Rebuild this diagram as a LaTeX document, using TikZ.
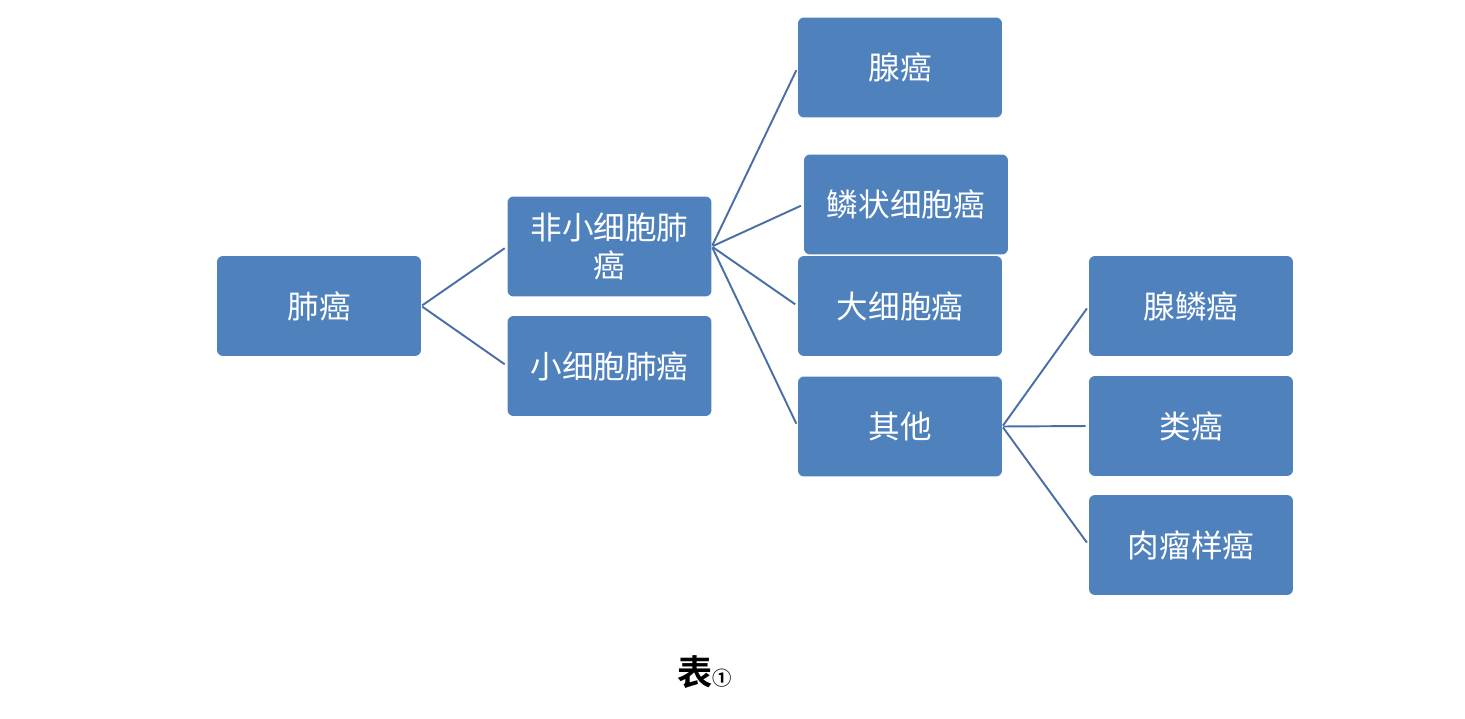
\documentclass[tikz,border=0pt]{standalone}
\usepackage{fontspec}
\newfontfamily\cjk{Noto Sans CJK SC}
\newfontfamily\cjkb{Noto Sans CJK SC Bold}
\definecolor{boxblue}{HTML}{4F81BD}
\definecolor{linkblue}{HTML}{4A6FA5}
\tikzset{
  box/.style={fill=boxblue, rounded corners=0.12cm, minimum width=4.08cm, minimum height=2cm, text=white, font=\cjk\fontsize{18}{22}\selectfont, align=center, inner sep=1pt, text width=3.98cm},
  link/.style={draw=linkblue, line width=1.1pt, shorten >=0.06cm, shorten <=0.02cm}
}
\begin{document}
\begin{tikzpicture}[x=0.02cm,y=-0.02cm]
\useasboundingbox (0,0) rectangle (1465,719);
\node[box] (fa) at (319,306) {肺癌};
\node[box] (nsc) at (609.5,246.5) {非小细胞肺\\癌};
\node[box] (sc) at (609.5,366) {小细胞肺癌};
\node[box] (xa) at (900,67.5) {腺癌};
\node[box] (ln) at (906,204.5) {鳞状细胞癌};
\node[box] (dx) at (900,306) {大细胞癌};
\node[box] (qt) at (900,426.5) {其他};
\node[box] (xl) at (1191,306) {腺鳞癌};
\node[box] (la) at (1191,426) {类癌};
\node[box] (rl) at (1191,545) {肉瘤样癌};
\draw[link] (fa.east) -- (nsc.west);
\draw[link] (fa.east) -- (sc.west);
\draw[link] (nsc.east) -- (xa.west);
\draw[link] (nsc.east) -- (ln.west);
\draw[link] (nsc.east) -- (dx.west);
\draw[link] (nsc.east) -- (qt.west);
\draw[link] (qt.east) -- (xl.west);
\draw[link] (qt.east) -- (la.west);
\draw[link] (qt.east) -- (rl.west);
\node[font=\cjkb\fontsize{20}{24}\selectfont, anchor=base] (cap) at (705,685) {表{\fontsize{11}{13}\selectfont ①}};
\end{tikzpicture}
\end{document}
